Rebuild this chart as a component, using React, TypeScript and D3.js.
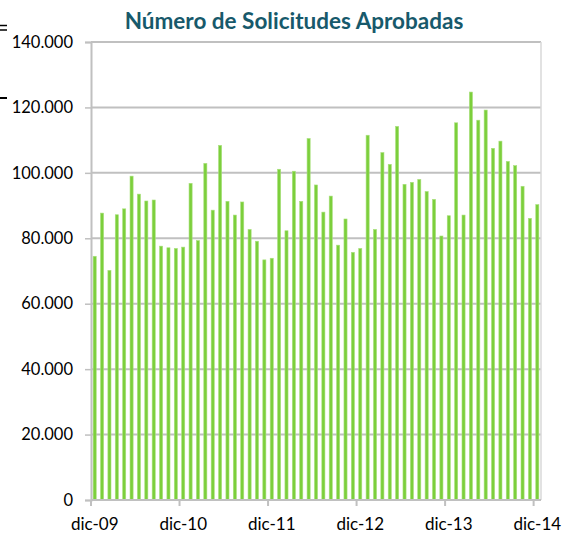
import { useRef, useEffect } from 'react';
import * as d3 from 'd3';

// monthly approved applications, dic-09 .. dic-14
const approved = [
  74500, 87700, 70200, 87200, 89000, 99000, 93500, 91400, 91700, 77600, 77100, 76900,
  77300, 96800, 79300, 102900, 88600, 108400, 91300, 87100, 91100, 82700, 79100, 73400,
  73900, 101100, 82300, 100500, 91300, 110500, 96300, 88000, 92900, 77900, 85900, 75700,
  76900, 111500, 82700, 106200, 102600, 114200, 96500, 97100, 98000, 94300, 91900, 80700,
  86900, 115300, 87100, 124700, 116100, 119200, 107500, 109700, 103500, 102200, 95900, 86100,
  90300,
];
const monthLabels = ['ene', 'feb', 'mar', 'abr', 'may', 'jun', 'jul', 'ago', 'sep', 'oct', 'nov', 'dic'];
const yTicks = [0, 20000, 40000, 60000, 80000, 100000, 120000, 140000];
const xTickLabels = ['dic-09', 'dic-10', 'dic-11', 'dic-12', 'dic-13', 'dic-14'];

// category names built from the start month (dic-09)
const months = approved.map((_, i) => {
  const m = (11 + i) % 12;
  const yr = 9 + Math.floor((11 + i) / 12);
  return `${monthLabels[m]}-${String(yr).padStart(2, '0')}`;
});

const Chart = () => {
  const svgRef = useRef<SVGSVGElement>(null);

  useEffect(() => {
    const svg = d3.select(svgRef.current);
    svg.selectAll('*').remove();

    const width = 574;
    const height = 539;
    const margin = { top: 42, right: 33, bottom: 39, left: 91 };
    const innerWidth = width - margin.left - margin.right;
    const innerHeight = height - margin.top - margin.bottom;
    const font = 'Lato, "Open Sans", sans-serif';
    const grid = '#c0c0c0';

    const x = d3.scaleBand()
      .domain(months)
      .range([0, innerWidth])
      .paddingInner(0.58)
      .paddingOuter(0.29);

    const y = d3.scaleLinear()
      .domain([0, 140000])
      .range([innerHeight, 0]);

    const g = svg.append('g')
      .attr('transform', `translate(${margin.left},${margin.top})`);

    // gridlines
    g.selectAll('.grid')
      .data(yTicks.filter(d => d > 0))
      .enter()
      .append('line')
      .attr('x1', 0)
      .attr('x2', innerWidth)
      .attr('y1', d => y(d))
      .attr('y2', d => y(d))
      .attr('stroke', grid)
      .attr('stroke-width', 2);

    // right border of plot area
    g.append('line')
      .attr('x1', innerWidth).attr('x2', innerWidth)
      .attr('y1', 0).attr('y2', innerHeight)
      .attr('stroke', '#d9d9d9')
      .attr('stroke-width', 1.5);

    // bars
    g.selectAll('.bar')
      .data(approved)
      .enter()
      .append('rect')
      .attr('x', (_, i) => x(months[i])!)
      .attr('y', d => y(d))
      .attr('width', x.bandwidth())
      .attr('height', d => innerHeight - y(d))
      .attr('fill', '#7ccf3c')
      .attr('stroke', '#a9e07c')
      .attr('stroke-width', 0.6);

    // y axis
    const yAxis = g.append('g')
      .call(d3.axisLeft(y).tickValues(yTicks).tickSize(6).tickPadding(12)
        .tickFormat(d => d3.format(',')(d as number).replace(/,/g, '.')));
    yAxis.select('.domain').attr('stroke', grid).attr('stroke-width', 2);
    yAxis.selectAll('.tick line').attr('stroke', grid).attr('stroke-width', 1.5);
    yAxis.selectAll('.tick text')
      .attr('fill', '#000')
      .style('font-family', font)
      .style('font-size', '16.5px');

    // x axis: ticks on year boundaries (dic)
    const edge = (m: string) => x(m)! - (x.step() - x.bandwidth()) / 2;
    g.append('line')
      .attr('x1', 0).attr('x2', innerWidth)
      .attr('y1', innerHeight).attr('y2', innerHeight)
      .attr('stroke', grid)
      .attr('stroke-width', 2);
    g.selectAll('.xtick')
      .data(xTickLabels)
      .enter()
      .append('line')
      .attr('x1', d => edge(d)).attr('x2', d => edge(d))
      .attr('y1', innerHeight).attr('y2', innerHeight + 6)
      .attr('stroke', grid)
      .attr('stroke-width', 2);
    g.selectAll('.xlabel')
      .data(xTickLabels)
      .enter()
      .append('text')
      .attr('x', d => edge(d) + x.step() / 2)
      .attr('y', innerHeight + 30)
      .attr('text-anchor', 'middle')
      .style('font-family', font)
      .style('font-size', '17px')
      .attr('fill', '#000')
      .text(d => d);

    // title
    svg.append('text')
      .attr('x', 294)
      .attr('y', 29)
      .attr('text-anchor', 'middle')
      .style('font-family', font)
      .style('font-size', '22.5px')
      .style('font-weight', 'bold')
      .attr('fill', '#17596b')
      .text('Número de Solicitudes Aprobadas');

    // small marks at the left edge
    svg.append('line').attr('x1', 0).attr('x2', 7).attr('y1', 25.5).attr('y2', 25.5)
      .attr('stroke', '#000').attr('stroke-width', 1.5);
    svg.append('line').attr('x1', 0).attr('x2', 7).attr('y1', 30).attr('y2', 30)
      .attr('stroke', '#000').attr('stroke-width', 1.5);
    svg.append('line').attr('x1', 0).attr('x2', 7).attr('y1', 98).attr('y2', 98)
      .attr('stroke', '#000').attr('stroke-width', 2);
  }, []);

  return (
    <svg ref={svgRef} width="574" height="539"
      style={{ position: 'absolute', top: 0, left: 0, background: '#fff' }} />
  );
};

export default function App() {
  return <Chart />;
}
